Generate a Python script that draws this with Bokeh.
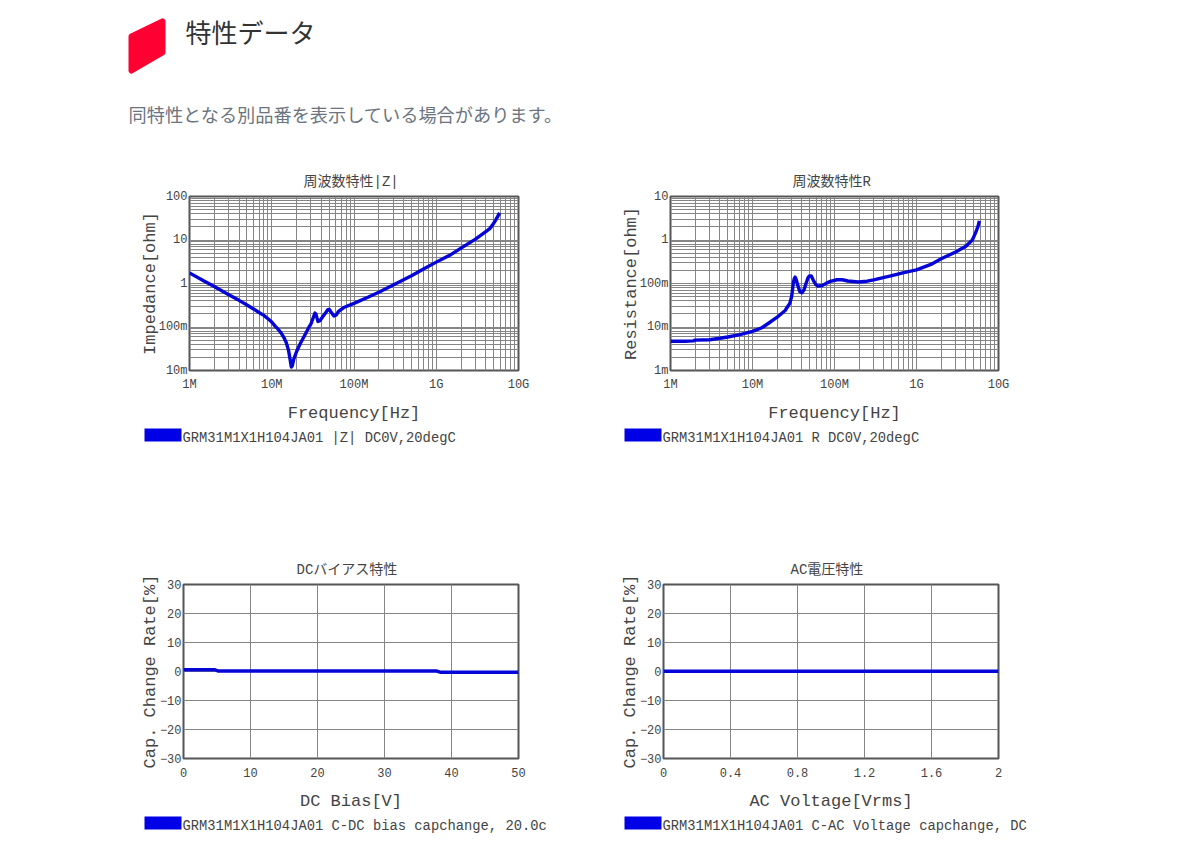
from bokeh.plotting import figure
from bokeh.layouts import column, row
from bokeh.models import FixedTicker, Range1d
from bokeh.embed import file_html
from bokeh.resources import INLINE
from bokeh.core.properties import value

# ---- data ----
z_freq = [1e6, 1.5e6, 2e6, 3e6, 4e6, 5e6, 6e6, 7e6, 8e6, 9e6, 10e6, 11e6, 12e6, 13e6, 14e6, 15e6, 16e6, 16.8e6, 17.3e6,
          17.8e6, 18.5e6, 20e6, 22e6, 25e6, 28e6, 30e6, 32e6, 33.5e6, 34.5e6, 35.5e6, 36.5e6, 38.5e6, 41e6, 45e6, 48e6,
          50e6, 53e6, 57e6, 61e6, 65e6, 75e6, 100e6, 150e6, 200e6, 300e6, 500e6, 700e6, 1e9, 1.5e9, 2e9, 3e9, 4e9, 4.5e9,
          4.9e9, 5.3e9, 5.9e9]
z_vals = [1.75, 1.14, 0.85, 0.55, 0.41, 0.32, 0.26, 0.215, 0.185, 0.155, 0.13, 0.105, 0.088, 0.073, 0.058, 0.044, 0.029,
          0.017, 0.012, 0.013, 0.018, 0.027, 0.04, 0.063, 0.095, 0.118, 0.165, 0.21, 0.195, 0.16, 0.134, 0.14, 0.165, 0.21,
          0.25, 0.255, 0.215, 0.18, 0.19, 0.23, 0.28, 0.35, 0.49, 0.63, 0.92, 1.5, 2.15, 3.1, 4.6, 6.5, 10.5, 15.5, 18.5,
          23, 29, 42]
r_freq = [1e6, 1.5e6, 1.9e6, 2e6, 3e6, 4e6, 5e6, 7e6, 10e6, 13e6, 16e6, 20e6, 25e6, 27e6, 28.5e6, 30e6, 30.8e6, 31.5e6,
          32.3e6, 33.1e6, 34e6, 35.7e6, 37.8e6, 40e6, 42.5e6, 44.8e6, 47.5e6, 49.6e6, 52e6, 55e6, 59e6, 62.6e6, 71e6, 80e6,
          89e6, 107e6, 125e6, 145e6, 195e6, 250e6, 300e6, 500e6, 700e6, 1e9, 1.5e9, 2e9, 3e9, 4e9, 4.8e9, 5.2e9, 5.6e9,
          5.85e9]
r_vals = [0.0047, 0.0047, 0.0048, 0.005, 0.0051, 0.0055, 0.0059, 0.0067, 0.0079, 0.0096, 0.0125, 0.0168, 0.024, 0.03,
          0.035, 0.05, 0.075, 0.105, 0.13, 0.14, 0.125, 0.09, 0.065, 0.061, 0.072, 0.097, 0.135, 0.15, 0.15, 0.12, 0.095,
          0.087, 0.09, 0.102, 0.112, 0.122, 0.122, 0.114, 0.108, 0.113, 0.121, 0.152, 0.178, 0.205, 0.275, 0.37, 0.53,
          0.72, 1.0, 1.4, 2.0, 2.75]
dc_v = [0, 4.7, 5.2, 37.8, 38.3, 50]
dc_c = [0.6, 0.6, 0.15, 0.15, -0.25, -0.25]
ac_v = [0, 0.4, 0.8, 1.2, 1.6, 2]
ac_c = [0.1, 0.1, 0.1, 0.1, 0.1, 0.1]

freq_ticks = [1e6, 1e7, 1e8, 1e9, 1e10]
freq_labels = ["1M", "10M", "100M", "1G", "10G"]
z_ticks = [0.01, 0.1, 1, 10, 100]
z_labels = ["10m", "100m", "1", "10", "100"]
r_ticks = [0.001, 0.01, 0.1, 1, 10]
r_labels = ["1m", "10m", "100m", "1", "10"]
rate_ticks = [-30, -20, -10, 0, 10, 20, 30]
dc_ticks = [0, 10, 20, 30, 40, 50]
ac_ticks = [0, 0.4, 0.8, 1.2, 1.6, 2]
ac_labels = ["0", "0.4", "0.8", "1.2", "1.6", "2"]

heading = "特性データ"
note = "同特性となる別品番を表示している場合があります。"
badge_x = [131, 162, 162, 131]
badge_y = [36, 21, 52, 70]

MONO = "Liberation Mono"
CJK = "Liberation Mono, Noto Sans CJK JP"
BLUE = "#0505d8"
GRID = "#858585"
TEXT = "#444444"


def minors(ticks):
    out = []
    for t in ticks[:-1]:
        out += [t * k for k in range(2, 10)]
    return out


def style(p, xlabel, ylabel, title_offset):
    p.outline_line_color = "#555555"
    p.outline_line_width = 2
    p.title.text_font = CJK
    p.title.text_font_size = "14px"
    p.title.text_font_style = "normal"
    p.title.text_color = TEXT
    p.title.align = "left"
    p.title.standoff = 14
    p.title.offset = title_offset
    for ax in (p.xaxis[0], p.yaxis[0]):
        ax.axis_line_color = None
        ax.major_tick_line_color = None
        ax.minor_tick_line_color = None
        ax.major_tick_in = 0
        ax.major_tick_out = 0
        ax.minor_tick_in = 0
        ax.minor_tick_out = 0
        ax.major_label_text_font = MONO
        ax.major_label_text_font_size = "12px"
        ax.major_label_text_color = TEXT
        ax.axis_label_text_font = MONO
        ax.axis_label_text_font_size = "17px"
        ax.axis_label_text_font_style = "normal"
        ax.axis_label_text_color = TEXT
    p.xaxis[0].axis_label = xlabel
    p.yaxis[0].axis_label = ylabel
    p.yaxis[0].major_label_standoff = 2
    for g in (p.xgrid[0], p.ygrid[0]):
        g.grid_line_color = GRID
        g.grid_line_width = 1


def log_chart(title, x, y, yticks, ylabels, ylabel, w, left, right, title_offset):
    p = figure(width=w, height=276, x_axis_type="log", y_axis_type="log", title=title,
               x_range=Range1d(freq_ticks[0], freq_ticks[-1]), y_range=Range1d(yticks[0], yticks[-1]),
               output_backend="svg", toolbar_location=None, min_border_left=left, min_border_right=right,
               min_border_top=46, min_border_bottom=56)
    p.line(x, y, line_color=BLUE, line_width=3.4, line_join="round")
    style(p, "Frequency[Hz]", ylabel, title_offset)
    p.xaxis[0].major_label_standoff = 7
    p.xaxis[0].axis_label_standoff = 9
    p.yaxis[0].axis_label_standoff = -4
    p.xaxis[0].ticker = FixedTicker(ticks=freq_ticks, minor_ticks=minors(freq_ticks))
    p.yaxis[0].ticker = FixedTicker(ticks=yticks, minor_ticks=minors(yticks))
    p.xaxis[0].major_label_overrides = dict(zip(freq_ticks, freq_labels))
    p.yaxis[0].major_label_overrides = dict(zip(yticks, ylabels))
    p.xgrid[0].minor_grid_line_color = GRID
    p.ygrid[0].minor_grid_line_color = GRID
    return p


def lin_chart(title, x, y, xticks, xmax, xlabel, w, left, right, title_offset, overrides=None):
    p = figure(width=w, height=274, title=title, x_range=Range1d(0, xmax), y_range=Range1d(-30, 30),
               output_backend="svg", toolbar_location=None, min_border_left=left, min_border_right=right,
               min_border_top=44, min_border_bottom=56)
    p.line(x, y, line_color=BLUE, line_width=3.4)
    style(p, xlabel, "Cap. Change Rate[%]", title_offset)
    p.xaxis[0].major_label_standoff = 9
    p.xaxis[0].axis_label_standoff = 12
    p.yaxis[0].axis_label_standoff = -3
    p.xaxis[0].ticker = FixedTicker(ticks=xticks)
    p.yaxis[0].ticker = FixedTicker(ticks=rate_ticks)
    if overrides:
        p.xaxis[0].major_label_overrides = overrides
    return p


def key_strip(label, w, sw_left):
    p = figure(width=w, height=24, x_range=Range1d(0, w), y_range=Range1d(24, 0), output_backend="svg",
               toolbar_location=None, min_border=0, outline_line_color=None)
    p.axis.visible = False
    p.grid.visible = False
    p.quad(left=[sw_left], right=[sw_left + 37], top=[2], bottom=[15], fill_color="#0000e6", line_color=None)
    p.text([sw_left + 38], [12], text=[label], text_font=value(MONO), text_font_size="13.8px",
           text_color=TEXT, text_baseline="middle")
    return row(p, spacing=0)


f1 = log_chart("周波数特性|Z|", z_freq, z_vals, z_ticks, z_labels, "Impedance[ohm]", 544, 181, 34, 114)
f2 = log_chart("周波数特性R", r_freq, r_vals, r_ticks, r_labels, "Resistance[ohm]", 490, 118, 44, 122)
f3 = lin_chart("DCバイアス特性", dc_v, dc_c, dc_ticks, 50, "DC Bias[V]", 544, 175, 34, 113)
f4 = lin_chart("AC電圧特性", ac_v, ac_c, ac_ticks, 2, "AC Voltage[Vrms]", 490, 111, 44, 127,
               overrides=dict(zip(ac_ticks, ac_labels)))

k1 = key_strip("GRM31M1X1H104JA01 |Z| DC0V,20degC", 544, 136)
k2 = key_strip("GRM31M1X1H104JA01 R DC0V,20degC", 490, 72)
k3 = key_strip("GRM31M1X1H104JA01 C-DC bias capchange, 20.0c", 544, 136)
k4 = key_strip("GRM31M1X1H104JA01 C-AC Voltage capchange, DC", 490, 72)

head = figure(width=1184, height=142, x_range=Range1d(8, 1192), y_range=Range1d(150, 8),
              output_backend="svg", toolbar_location=None, min_border=0, outline_line_color=None)
head.axis.visible = False
head.grid.visible = False
head.patch(badge_x, badge_y, fill_color="#ff0033", line_color="#ff0033", line_width=6, line_join="round")
head.text([185], [31], text=[heading], text_font=value("Noto Sans CJK JP"), text_font_size="26px",
          text_color="#333333", text_baseline="middle")
head.text([128], [113], text=[note], text_font=value("Noto Sans CJK JP"), text_font_size="18.2px",
          text_color="#6b7480", text_baseline="middle")

page = column(head,
              row(column(f1, k1, spacing=0), column(f2, k2, spacing=0), spacing=0),
              row(column(f3, k3, spacing=0), column(f4, k4, spacing=0), spacing=0, margin=(90, 0, 0, 0)),
              spacing=0, margin=(8, 0, 0, 8))
open("out.html", "w").write(file_html(page, INLINE))
